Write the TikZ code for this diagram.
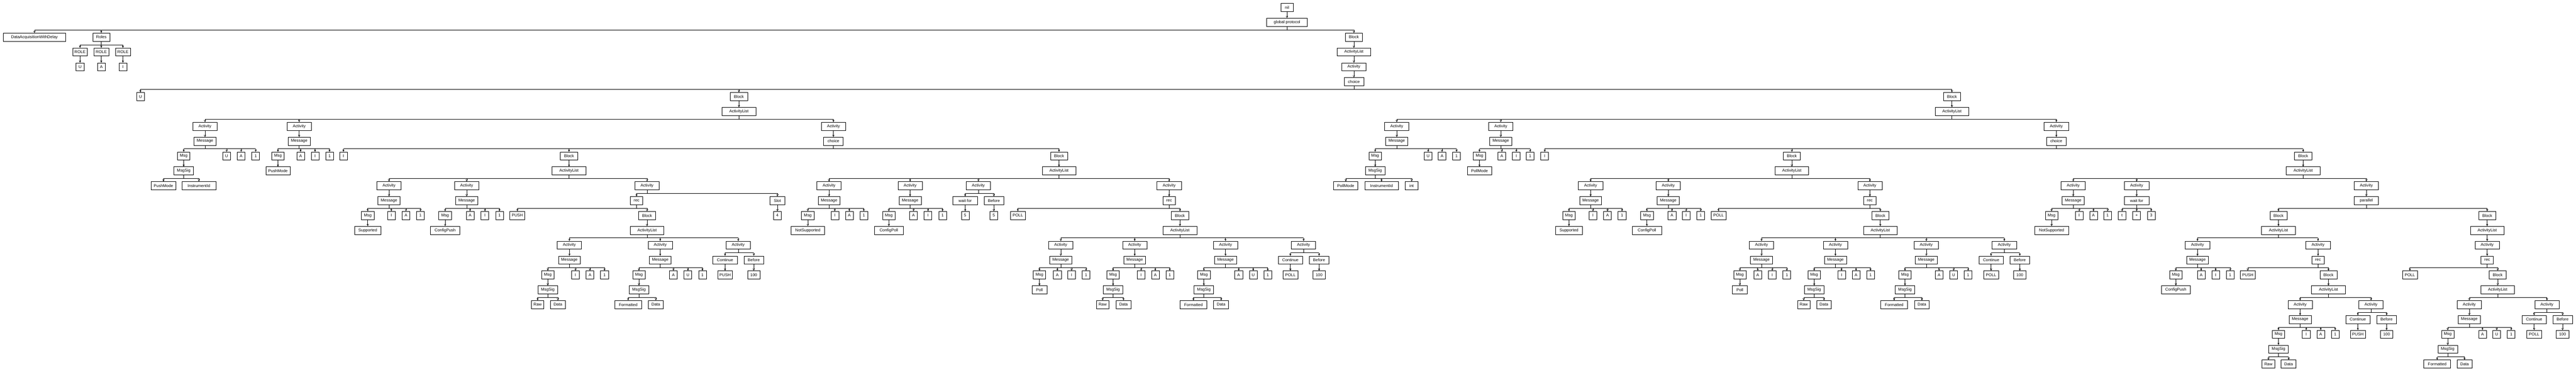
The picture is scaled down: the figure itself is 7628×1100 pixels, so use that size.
\documentclass[tikz,border=0pt]{standalone}
\usepackage{fontspec}
\setmainfont{Liberation Sans}
\usepackage{xstring}
\usetikzlibrary{arrows.meta}

% box width follows the number of characters of the label
\newcommand\tn[4]{\StrLen{#4}[\tnlen]%
  \node[tnode, minimum width={7*\tnlen+16}] (#1) at (#2,{-22-44*#3}) {#4};}
% parent -> children with a horizontal bus
\newcommand\kids[2]{%
  \draw[tedge] (#1.south) -- ++(0,-10) coordinate (#1-bus);
  \foreach \kid in {#2}{%
    \draw[tedge] (#1-bus) -- (#1-bus -| \kid.north);
    \draw[tedge,tarrow] (#1-bus -| \kid.north) -- (\kid.north);
  }}

\begin{document}
\begin{tikzpicture}[x=1pt,y=1pt]
  \tikzstyle{tnode} = [draw, rectangle, minimum height=24pt, inner sep=0pt, line width=1pt, font=\fontsize{12}{14}\selectfont]
  \tikzstyle{tedge} = [line width=1pt]
  \tikzstyle{tarrow} = [-{Straight Barb[length=5pt,width=5pt]}]
  \useasboundingbox (0,0) rectangle (7628,-1100);

  % top
  \tn{nil}{3811}{0}{nil}
  \tn{gp}{3811}{1}{global protocol}
  \tn{dawd}{102}{2}{DataAcquisitionWithDelay}
  \tn{roles}{300}{2}{Roles}
  \tn{rl1}{237}{3}{ROLE} \tn{rl2}{300}{3}{ROLE} \tn{rl3}{364}{3}{ROLE}
  \tn{ru}{237}{4}{U} \tn{ra}{300}{4}{A} \tn{ri}{364}{4}{I}
  \tn{b0}{4009}{2}{Block}
  \tn{al0}{4009}{3}{ActivityList}
  \tn{ac0}{4009}{4}{Activity}
  \tn{ch0}{4009}{5}{choice}
  \tn{chu}{416}{6}{U}
  \tn{bL}{2188}{6}{Block}
  \tn{bR}{5780}{6}{Block}

  % left block
  \tn{Lal}{2188}{7}{ActivityList}
  \tn{La1}{607}{8}{Activity} \tn{La2}{886}{8}{Activity} \tn{La3}{2468}{8}{Activity}
  \tn{La1m}{607}{9}{Message}
  \tn{La1g}{544}{10}{Msg} \tn{La1f}{671}{10}{U} \tn{La1t}{714}{10}{A} \tn{La1n}{757}{10}{1}
  \tn{La1s}{544}{11}{MsgSig}
  \tn{La1p}{484}{12}{PushMode} \tn{La1q}{589}{12}{InstrumentId}
  \tn{La2m}{886}{9}{Message}
  \tn{La2g}{823}{10}{Msg} \tn{La2f}{890}{10}{A} \tn{La2t}{933}{10}{I} \tn{La2n}{976}{10}{1}
  \tn{La2p}{823}{11}{PushMode}
  \tn{La3c}{2468}{9}{choice}
  \tn{La3r}{1017}{10}{I} \tn{LB1}{1685}{10}{Block} \tn{LB2}{3136}{10}{Block}

  % push branch
  \tn{Pal}{1685}{11}{ActivityList}
  \tn{Pa1}{1152}{12}{Activity} \tn{Pa2}{1382}{12}{Activity} \tn{Pa3}{1916}{12}{Activity}
  \tn{Pa1m}{1152}{13}{Message}
  \tn{Pa1g}{1089}{14}{Msg} \tn{Pa1f}{1159}{14}{I} \tn{Pa1t}{1202}{14}{A} \tn{Pa1n}{1245}{14}{1}
  \tn{Pa1p}{1089}{15}{Supported}
  \tn{Pa2m}{1382}{13}{Message}
  \tn{Pa2g}{1318}{14}{Msg} \tn{Pa2f}{1392}{14}{A} \tn{Pa2t}{1436}{14}{I} \tn{Pa2n}{1479}{14}{1}
  \tn{Pa2p}{1318}{15}{ConfigPush}
  \tn{Pa3r}{1885}{13}{rec} \tn{Pa3s}{2302}{13}{Slot}
  \tn{Pa3l}{1532}{14}{PUSH} \tn{Pa3b}{1916}{14}{Block} \tn{Pa3v}{2302}{14}{4}
  \tn{Pal2}{1916}{15}{ActivityList}
  \tn{Pb1}{1686}{16}{Activity} \tn{Pb2}{1955}{16}{Activity} \tn{Pb3}{2186}{16}{Activity}
  \tn{Pb1m}{1686}{17}{Message}
  \tn{Pb1g}{1622}{18}{Msg} \tn{Pb1f}{1704}{18}{I} \tn{Pb1t}{1747}{18}{A} \tn{Pb1n}{1790}{18}{1}
  \tn{Pb1s}{1622}{19}{MsgSig}
  \tn{Pb1x}{1592}{20}{Raw} \tn{Pb1y}{1652}{20}{Data}
  \tn{Pb2m}{1955}{17}{Message}
  \tn{Pb2g}{1892}{18}{Msg} \tn{Pb2f}{1994}{18}{A} \tn{Pb2t}{2037}{18}{U} \tn{Pb2n}{2080}{18}{1}
  \tn{Pb2s}{1892}{19}{MsgSig}
  \tn{Pb2x}{1860}{20}{Formatted} \tn{Pb2y}{1942}{20}{Data}
  \tn{Pb3c}{2147}{17}{Continue} \tn{Pb3b}{2232}{17}{Before}
  \tn{Pb3l}{2147}{18}{PUSH} \tn{Pb3v}{2232}{18}{100}

  % poll branch
  \tn{Qal}{3136}{11}{ActivityList}
  \tn{Qa1}{2455}{12}{Activity} \tn{Qa2}{2695}{12}{Activity} \tn{Qa3}{2897}{12}{Activity} \tn{Qa4}{3462}{12}{Activity}
  \tn{Qa1m}{2455}{13}{Message}
  \tn{Qa1g}{2392}{14}{Msg} \tn{Qa1f}{2472}{14}{I} \tn{Qa1t}{2515}{14}{A} \tn{Qa1n}{2558}{14}{1}
  \tn{Qa1p}{2392}{15}{NotSupported}
  \tn{Qa2m}{2695}{13}{Message}
  \tn{Qa2g}{2632}{14}{Msg} \tn{Qa2f}{2705}{14}{A} \tn{Qa2t}{2748}{14}{I} \tn{Qa2n}{2791}{14}{1}
  \tn{Qa2p}{2632}{15}{ConfigPoll}
  \tn{Qa3w}{2858}{13}{wait for} \tn{Qa3b}{2943}{13}{Before}
  \tn{Qa3x}{2858}{14}{5} \tn{Qa3y}{2943}{14}{5}
  \tn{Qa4r}{3462}{13}{rec}
  \tn{Qa4l}{3014}{14}{POLL} \tn{Qa4b}{3494}{14}{Block}
  \tn{Qal2}{3494}{15}{ActivityList}
  \tn{Qb1}{3141}{16}{Activity} \tn{Qb2}{3360}{16}{Activity} \tn{Qb3}{3629}{16}{Activity} \tn{Qb4}{3860}{16}{Activity}
  \tn{Qb1m}{3141}{17}{Message}
  \tn{Qb1g}{3078}{18}{Msg} \tn{Qb1f}{3131}{18}{A} \tn{Qb1t}{3173}{18}{I} \tn{Qb1n}{3216}{18}{1}
  \tn{Qb1p}{3078}{19}{Poll}
  \tn{Qb2m}{3360}{17}{Message}
  \tn{Qb2g}{3296}{18}{Msg} \tn{Qb2f}{3379}{18}{I} \tn{Qb2t}{3421}{18}{A} \tn{Qb2n}{3464}{18}{1}
  \tn{Qb2s}{3296}{19}{MsgSig}
  \tn{Qb2x}{3265}{20}{Raw} \tn{Qb2y}{3327}{20}{Data}
  \tn{Qb3m}{3629}{17}{Message}
  \tn{Qb3g}{3565}{18}{Msg} \tn{Qb3f}{3668}{18}{A} \tn{Qb3t}{3711}{18}{U} \tn{Qb3n}{3754}{18}{1}
  \tn{Qb3s}{3565}{19}{MsgSig}
  \tn{Qb3x}{3534}{20}{Formatted} \tn{Qb3y}{3616}{20}{Data}
  \tn{Qb4c}{3821}{17}{Continue} \tn{Qb4b}{3906}{17}{Before}
  \tn{Qb4l}{3821}{18}{POLL} \tn{Qb4v}{3906}{18}{100}

  % right block
  \tn{Ral}{5780}{7}{ActivityList}
  \tn{Ra1}{4136}{8}{Activity} \tn{Ra2}{4444}{8}{Activity} \tn{Ra3}{6089}{8}{Activity}
  \tn{Ra1m}{4136}{9}{Message}
  \tn{Ra1g}{4072}{10}{Msg} \tn{Ra1f}{4229}{10}{U} \tn{Ra1t}{4270}{10}{A} \tn{Ra1n}{4313}{10}{1}
  \tn{Ra1s}{4072}{11}{MsgSig}
  \tn{Ra1p}{3985}{12}{PollMode} \tn{Ra1q}{4091}{12}{InstrumentId} \tn{Ra1i}{4180}{12}{int}
  \tn{Ra2m}{4444}{9}{Message}
  \tn{Ra2g}{4381}{10}{Msg} \tn{Ra2f}{4447}{10}{A} \tn{Ra2t}{4490}{10}{I} \tn{Ra2n}{4531}{10}{1}
  \tn{Ra2p}{4381}{11}{PollMode}
  \tn{Ra3c}{6089}{9}{choice}
  \tn{Ra3r}{4574}{10}{I} \tn{RB1}{5306}{10}{Block} \tn{RB2}{6820}{10}{Block}

  % second poll branch
  \tn{Sal}{5306}{11}{ActivityList}
  \tn{Sa1}{4710}{12}{Activity} \tn{Sa2}{4940}{12}{Activity} \tn{Sa3}{5537}{12}{Activity}
  \tn{Sa1m}{4710}{13}{Message}
  \tn{Sa1g}{4646}{14}{Msg} \tn{Sa1f}{4717}{14}{I} \tn{Sa1t}{4760}{14}{A} \tn{Sa1n}{4803}{14}{1}
  \tn{Sa1p}{4646}{15}{Supported}
  \tn{Sa2m}{4940}{13}{Message}
  \tn{Sa2g}{4877}{14}{Msg} \tn{Sa2f}{4951}{14}{A} \tn{Sa2t}{4993}{14}{I} \tn{Sa2n}{5036}{14}{1}
  \tn{Sa2p}{4877}{15}{ConfigPoll}
  \tn{Sa3r}{5537}{13}{rec}
  \tn{Sa3l}{5089}{14}{POLL} \tn{Sa3b}{5568}{14}{Block}
  \tn{Sal2}{5568}{15}{ActivityList}
  \tn{Sb1}{5216}{16}{Activity} \tn{Sb2}{5435}{16}{Activity} \tn{Sb3}{5704}{16}{Activity} \tn{Sb4}{5935}{16}{Activity}
  \tn{Sb1m}{5216}{17}{Message}
  \tn{Sb1g}{5152}{18}{Msg} \tn{Sb1f}{5205}{18}{A} \tn{Sb1t}{5248}{18}{I} \tn{Sb1n}{5291}{18}{1}
  \tn{Sb1p}{5152}{19}{Poll}
  \tn{Sb2m}{5435}{17}{Message}
  \tn{Sb2g}{5372}{18}{Msg} \tn{Sb2f}{5453}{18}{I} \tn{Sb2t}{5496}{18}{A} \tn{Sb2n}{5539}{18}{1}
  \tn{Sb2s}{5372}{19}{MsgSig}
  \tn{Sb2x}{5341}{20}{Raw} \tn{Sb2y}{5401}{20}{Data}
  \tn{Sb3m}{5704}{17}{Message}
  \tn{Sb3g}{5641}{18}{Msg} \tn{Sb3f}{5742}{18}{A} \tn{Sb3t}{5785}{18}{U} \tn{Sb3n}{5828}{18}{1}
  \tn{Sb3s}{5641}{19}{MsgSig}
  \tn{Sb3x}{5609}{20}{Formatted} \tn{Sb3y}{5691}{20}{Data}
  \tn{Sb4c}{5896}{17}{Continue} \tn{Sb4b}{5981}{17}{Before}
  \tn{Sb4l}{5896}{18}{POLL} \tn{Sb4v}{5981}{18}{100}

  % not supported branch
  \tn{Tal}{6820}{11}{ActivityList}
  \tn{Ta1}{6139}{12}{Activity} \tn{Ta2}{6327}{12}{Activity} \tn{Ta3}{7007}{12}{Activity}
  \tn{Ta1m}{6139}{13}{Message}
  \tn{Ta1g}{6075}{14}{Msg} \tn{Ta1f}{6157}{14}{I} \tn{Ta1t}{6199}{14}{A} \tn{Ta1n}{6241}{14}{1}
  \tn{Ta1p}{6075}{15}{NotSupported}
  \tn{Ta2w}{6327}{13}{wait for}
  \tn{Ta2x}{6284}{14}{t} \tn{Ta2y}{6327}{14}{+} \tn{Ta2z}{6370}{14}{3}
  \tn{Ta3p}{7007}{13}{parallel}
  \tn{Tpb1}{6747}{14}{Block} \tn{Tpb2}{7365}{14}{Block}
  \tn{Tal1}{6747}{15}{ActivityList}
  \tn{Tc1}{6507}{16}{Activity} \tn{Tc2}{6864}{16}{Activity}
  \tn{Tc1m}{6507}{17}{Message}
  \tn{Tc1g}{6443}{18}{Msg} \tn{Tc1f}{6518}{18}{A} \tn{Tc1t}{6561}{18}{I} \tn{Tc1n}{6604}{18}{1}
  \tn{Tc1p}{6443}{19}{ConfigPush}
  \tn{Tc2r}{6864}{17}{rec}
  \tn{Tc2l}{6656}{18}{PUSH} \tn{Tc2b}{6895}{18}{Block}
  \tn{Tal2}{6895}{19}{ActivityList}
  \tn{Td1}{6811}{20}{Activity} \tn{Td2}{7021}{20}{Activity}
  \tn{Td1m}{6811}{21}{Message}
  \tn{Td1g}{6747}{22}{Msg} \tn{Td1f}{6829}{22}{I} \tn{Td1t}{6872}{22}{A} \tn{Td1n}{6915}{22}{1}
  \tn{Td1s}{6747}{23}{MsgSig}
  \tn{Td1x}{6717}{24}{Raw} \tn{Td1y}{6777}{24}{Data}
  \tn{Td2c}{6982}{21}{Continue} \tn{Td2b}{7067}{21}{Before}
  \tn{Td2l}{6982}{22}{PUSH} \tn{Td2v}{7067}{22}{100}
  \tn{Tal3}{7365}{15}{ActivityList}
  \tn{Te}{7365}{16}{Activity}
  \tn{Ter}{7365}{17}{rec}
  \tn{Tel}{7136}{18}{POLL} \tn{Teb}{7396}{18}{Block}
  \tn{Tal4}{7396}{19}{ActivityList}
  \tn{Tf1}{7312}{20}{Activity} \tn{Tf2}{7542}{20}{Activity}
  \tn{Tf1m}{7312}{21}{Message}
  \tn{Tf1g}{7248}{22}{Msg} \tn{Tf1f}{7351}{22}{A} \tn{Tf1t}{7393}{22}{U} \tn{Tf1n}{7436}{22}{1}
  \tn{Tf1s}{7248}{23}{MsgSig}
  \tn{Tf1x}{7217}{24}{Formatted} \tn{Tf1y}{7298}{24}{Data}
  \tn{Tf2c}{7504}{21}{Continue} \tn{Tf2b}{7588}{21}{Before}
  \tn{Tf2l}{7504}{22}{POLL} \tn{Tf2v}{7588}{22}{100}

  % connectors
  \kids{nil}{gp}
  \kids{gp}{dawd,roles,b0}
  \kids{roles}{rl1,rl2,rl3}
  \kids{rl1}{ru} \kids{rl2}{ra} \kids{rl3}{ri}
  \kids{b0}{al0} \kids{al0}{ac0} \kids{ac0}{ch0}
  \kids{ch0}{chu,bL,bR}

  \kids{bL}{Lal}
  \kids{Lal}{La1,La2,La3}
  \kids{La1}{La1m} \kids{La1m}{La1g,La1f,La1t,La1n}
  \kids{La1g}{La1s} \kids{La1s}{La1p,La1q}
  \kids{La2}{La2m} \kids{La2m}{La2g,La2f,La2t,La2n} \kids{La2g}{La2p}
  \kids{La3}{La3c} \kids{La3c}{La3r,LB1,LB2}

  \kids{LB1}{Pal}
  \kids{Pal}{Pa1,Pa2,Pa3}
  \kids{Pa1}{Pa1m} \kids{Pa1m}{Pa1g,Pa1f,Pa1t,Pa1n} \kids{Pa1g}{Pa1p}
  \kids{Pa2}{Pa2m} \kids{Pa2m}{Pa2g,Pa2f,Pa2t,Pa2n} \kids{Pa2g}{Pa2p}
  \kids{Pa3}{Pa3r,Pa3s} \kids{Pa3r}{Pa3l,Pa3b} \kids{Pa3s}{Pa3v}
  \kids{Pa3b}{Pal2}
  \kids{Pal2}{Pb1,Pb2,Pb3}
  \kids{Pb1}{Pb1m} \kids{Pb1m}{Pb1g,Pb1f,Pb1t,Pb1n} \kids{Pb1g}{Pb1s} \kids{Pb1s}{Pb1x,Pb1y}
  \kids{Pb2}{Pb2m} \kids{Pb2m}{Pb2g,Pb2f,Pb2t,Pb2n} \kids{Pb2g}{Pb2s} \kids{Pb2s}{Pb2x,Pb2y}
  \kids{Pb3}{Pb3c,Pb3b} \kids{Pb3c}{Pb3l} \kids{Pb3b}{Pb3v}

  \kids{LB2}{Qal}
  \kids{Qal}{Qa1,Qa2,Qa3,Qa4}
  \kids{Qa1}{Qa1m} \kids{Qa1m}{Qa1g,Qa1f,Qa1t,Qa1n} \kids{Qa1g}{Qa1p}
  \kids{Qa2}{Qa2m} \kids{Qa2m}{Qa2g,Qa2f,Qa2t,Qa2n} \kids{Qa2g}{Qa2p}
  \kids{Qa3}{Qa3w,Qa3b} \kids{Qa3w}{Qa3x} \kids{Qa3b}{Qa3y}
  \kids{Qa4}{Qa4r} \kids{Qa4r}{Qa4l,Qa4b}
  \kids{Qa4b}{Qal2}
  \kids{Qal2}{Qb1,Qb2,Qb3,Qb4}
  \kids{Qb1}{Qb1m} \kids{Qb1m}{Qb1g,Qb1f,Qb1t,Qb1n} \kids{Qb1g}{Qb1p}
  \kids{Qb2}{Qb2m} \kids{Qb2m}{Qb2g,Qb2f,Qb2t,Qb2n} \kids{Qb2g}{Qb2s} \kids{Qb2s}{Qb2x,Qb2y}
  \kids{Qb3}{Qb3m} \kids{Qb3m}{Qb3g,Qb3f,Qb3t,Qb3n} \kids{Qb3g}{Qb3s} \kids{Qb3s}{Qb3x,Qb3y}
  \kids{Qb4}{Qb4c,Qb4b} \kids{Qb4c}{Qb4l} \kids{Qb4b}{Qb4v}

  \kids{bR}{Ral}
  \kids{Ral}{Ra1,Ra2,Ra3}
  \kids{Ra1}{Ra1m} \kids{Ra1m}{Ra1g,Ra1f,Ra1t,Ra1n}
  \kids{Ra1g}{Ra1s} \kids{Ra1s}{Ra1p,Ra1q,Ra1i}
  \kids{Ra2}{Ra2m} \kids{Ra2m}{Ra2g,Ra2f,Ra2t,Ra2n} \kids{Ra2g}{Ra2p}
  \kids{Ra3}{Ra3c} \kids{Ra3c}{Ra3r,RB1,RB2}

  \kids{RB1}{Sal}
  \kids{Sal}{Sa1,Sa2,Sa3}
  \kids{Sa1}{Sa1m} \kids{Sa1m}{Sa1g,Sa1f,Sa1t,Sa1n} \kids{Sa1g}{Sa1p}
  \kids{Sa2}{Sa2m} \kids{Sa2m}{Sa2g,Sa2f,Sa2t,Sa2n} \kids{Sa2g}{Sa2p}
  \kids{Sa3}{Sa3r} \kids{Sa3r}{Sa3l,Sa3b}
  \kids{Sa3b}{Sal2}
  \kids{Sal2}{Sb1,Sb2,Sb3,Sb4}
  \kids{Sb1}{Sb1m} \kids{Sb1m}{Sb1g,Sb1f,Sb1t,Sb1n} \kids{Sb1g}{Sb1p}
  \kids{Sb2}{Sb2m} \kids{Sb2m}{Sb2g,Sb2f,Sb2t,Sb2n} \kids{Sb2g}{Sb2s} \kids{Sb2s}{Sb2x,Sb2y}
  \kids{Sb3}{Sb3m} \kids{Sb3m}{Sb3g,Sb3f,Sb3t,Sb3n} \kids{Sb3g}{Sb3s} \kids{Sb3s}{Sb3x,Sb3y}
  \kids{Sb4}{Sb4c,Sb4b} \kids{Sb4c}{Sb4l} \kids{Sb4b}{Sb4v}

  \kids{RB2}{Tal}
  \kids{Tal}{Ta1,Ta2,Ta3}
  \kids{Ta1}{Ta1m} \kids{Ta1m}{Ta1g,Ta1f,Ta1t,Ta1n} \kids{Ta1g}{Ta1p}
  \kids{Ta2}{Ta2w} \kids{Ta2w}{Ta2x,Ta2y,Ta2z}
  \kids{Ta3}{Ta3p} \kids{Ta3p}{Tpb1,Tpb2}
  \kids{Tpb1}{Tal1}
  \kids{Tal1}{Tc1,Tc2}
  \kids{Tc1}{Tc1m} \kids{Tc1m}{Tc1g,Tc1f,Tc1t,Tc1n} \kids{Tc1g}{Tc1p}
  \kids{Tc2}{Tc2r} \kids{Tc2r}{Tc2l,Tc2b}
  \kids{Tc2b}{Tal2}
  \kids{Tal2}{Td1,Td2}
  \kids{Td1}{Td1m} \kids{Td1m}{Td1g,Td1f,Td1t,Td1n} \kids{Td1g}{Td1s} \kids{Td1s}{Td1x,Td1y}
  \kids{Td2}{Td2c,Td2b} \kids{Td2c}{Td2l} \kids{Td2b}{Td2v}
  \kids{Tpb2}{Tal3}
  \kids{Tal3}{Te} \kids{Te}{Ter} \kids{Ter}{Tel,Teb}
  \kids{Teb}{Tal4}
  \kids{Tal4}{Tf1,Tf2}
  \kids{Tf1}{Tf1m} \kids{Tf1m}{Tf1g,Tf1f,Tf1t,Tf1n} \kids{Tf1g}{Tf1s} \kids{Tf1s}{Tf1x,Tf1y}
  \kids{Tf2}{Tf2c,Tf2b} \kids{Tf2c}{Tf2l} \kids{Tf2b}{Tf2v}
\end{tikzpicture}
\end{document}
